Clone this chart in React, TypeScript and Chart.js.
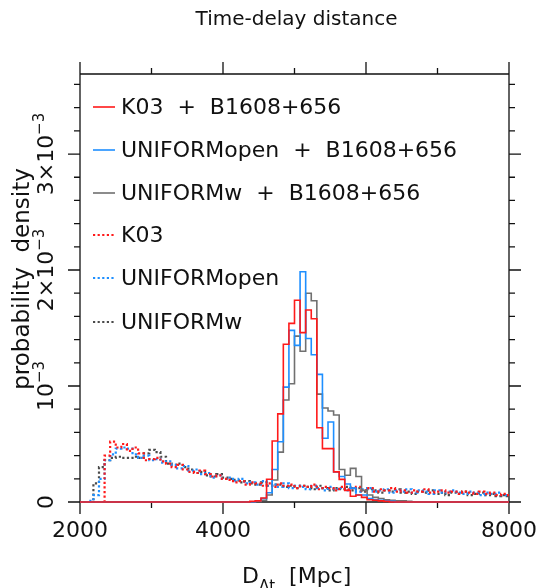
import React, { useEffect, useRef } from "react";
import { Chart, registerables } from "chart.js";

Chart.register(...registerables);

// ---------- data (probability density in units of 1e-3) ----------
const BIN_WIDTH = 78.125; // Mpc
const FIRST_BIN_EDGE = 1953.125; // left edge of first bin
const X_MIN = 2000;
const X_MAX = 8000;
const Y_MAX = 3.69;

const TITLE = "Time-delay distance";
const Y_LABEL = "probability  density";

const X_MAJOR_TICKS = [2000, 4000, 6000, 8000];
const X_MINOR_TICKS = [3000, 5000, 7000];
const X_TICK_LABELS = ["2000", "4000", "6000", "8000"];
const Y_MAJOR_TICKS = [0, 1, 2, 3];
const Y_MINOR_TICKS = [0.2, 0.4, 0.6, 0.8, 1.2, 1.4, 1.6, 1.8, 2.2, 2.4, 2.6, 2.8, 3.2, 3.4, 3.6];
const Y_TICK_PREFIX = ["0", "10", "2×10", "3×10"];
const Y_TICK_EXP = ["", "−3", "−3", "−3"];

// solid: posterior with B1608+656
const k03B1608 = [
  0, 0, 0, 0, 0, 0, 0, 0, 0, 0,
  0, 0, 0, 0, 0, 0, 0, 0, 0, 0,
  0, 0, 0, 0, 0, 0, 0, 0, 0, 0,
  0,
  0.005, 0.01, 0.035, 0.196, 0.526, 0.76, 1.36, 1.54, 1.74, 1.46,
  1.655, 1.58, 0.64, 0.46, 0.46, 0.26, 0.195, 0.10, 0.05, 0.06,
  0.04, 0.02, 0.015, 0.01, 0.005,
  0, 0, 0, 0, 0, 0, 0, 0, 0, 0,
  0, 0, 0, 0, 0, 0, 0, 0, 0, 0,
  0, 0,
];
const openB1608 = [
  0, 0, 0, 0, 0, 0, 0, 0, 0, 0,
  0, 0, 0, 0, 0, 0, 0, 0, 0, 0,
  0, 0, 0, 0, 0, 0, 0, 0, 0, 0,
  0, 0,
  0.01, 0.03, 0.08, 0.28, 0.52, 0.99, 1.48, 1.35, 1.985, 1.41,
  1.27, 1.10, 0.55, 0.69, 0.26, 0.22, 0.155, 0.12, 0.06, 0.06,
  0.03, 0.02, 0.015, 0.01, 0.005,
  0, 0, 0, 0, 0, 0, 0, 0, 0, 0,
  0, 0, 0, 0, 0, 0, 0, 0, 0, 0,
  0,
];
const wB1608 = [
  0, 0, 0, 0, 0, 0, 0, 0, 0, 0,
  0, 0, 0, 0, 0, 0, 0, 0, 0, 0,
  0, 0, 0, 0, 0, 0, 0, 0, 0, 0,
  0, 0,
  0.005, 0.015, 0.06, 0.19, 0.43, 0.88, 1.02, 1.43, 1.30, 1.80,
  1.735, 0.93, 0.81, 0.785, 0.75, 0.28, 0.23, 0.29, 0.22, 0.10,
  0.06, 0.04, 0.03, 0.02, 0.015, 0.01, 0.01, 0.005,
  0, 0, 0, 0, 0, 0, 0, 0, 0, 0,
  0, 0, 0, 0, 0, 0, 0, 0,
];

// dotted: priors only
const k03Prior = [
  0, 0, 0, 0, 0,
  0.40, 0.52, 0.47, 0.50, 0.44, 0.47, 0.42, 0.36, 0.37, 0.38,
  0.35, 0.33, 0.30, 0.32, 0.28, 0.26, 0.25, 0.27, 0.24, 0.22,
  0.23, 0.20, 0.19, 0.17, 0.18, 0.15, 0.17, 0.16, 0.14, 0.16,
  0.13, 0.16, 0.14, 0.15, 0.12, 0.14, 0.13, 0.15, 0.11, 0.13,
  0.12, 0.10, 0.13, 0.11, 0.12, 0.13, 0.10, 0.12, 0.09, 0.11,
  0.10, 0.12, 0.09, 0.10, 0.08, 0.10, 0.09, 0.11, 0.08, 0.09,
  0.10, 0.08, 0.09, 0.07, 0.09, 0.08, 0.07, 0.09, 0.07, 0.08,
  0.06, 0.07, 0.06,
];
const openPrior = [
  0, 0, 0.01, 0.06, 0.20,
  0.36, 0.41, 0.46, 0.47, 0.46, 0.41, 0.38, 0.40, 0.36, 0.37,
  0.34, 0.35, 0.32, 0.29, 0.31, 0.27, 0.28, 0.24, 0.25, 0.21,
  0.23, 0.20, 0.21, 0.18, 0.20, 0.16, 0.17, 0.15, 0.18, 0.14,
  0.15, 0.13, 0.16, 0.12, 0.14, 0.13, 0.11, 0.14, 0.12, 0.10,
  0.13, 0.11, 0.12, 0.10, 0.12, 0.09, 0.11, 0.12, 0.09, 0.10,
  0.11, 0.08, 0.10, 0.09, 0.11, 0.08, 0.10, 0.09, 0.07, 0.10,
  0.08, 0.09, 0.10, 0.08, 0.07, 0.09, 0.08, 0.06, 0.08, 0.07,
  0.08, 0.06, 0.06,
];
const wPrior = [
  0, 0, 0, 0.16, 0.30,
  0.36, 0.38, 0.39, 0.38, 0.38, 0.39, 0.38, 0.42, 0.45, 0.43,
  0.39, 0.33, 0.32, 0.33, 0.30, 0.28, 0.25, 0.26, 0.23, 0.22,
  0.24, 0.21, 0.20, 0.19, 0.17, 0.18, 0.16, 0.15, 0.17, 0.14,
  0.15, 0.15, 0.13, 0.14, 0.12, 0.14, 0.13, 0.11, 0.14, 0.12,
  0.10, 0.12, 0.11, 0.13, 0.10, 0.12, 0.09, 0.11, 0.10, 0.08,
  0.10, 0.09, 0.11, 0.08, 0.09, 0.07, 0.09, 0.08, 0.10, 0.07,
  0.08, 0.06, 0.08, 0.07, 0.09, 0.06, 0.07, 0.08, 0.06, 0.07,
  0.05, 0.06, 0.05,
];

const SERIES_LABELS = [
  "K03  +  B1608+656",
  "UNIFORMopen  +  B1608+656",
  "UNIFORMw  +  B1608+656",
  "K03",
  "UNIFORMopen",
  "UNIFORMw",
];

const RED = "#ff1a1a";
const BLUE = "#1e8fff";
const GRAY_SOLID = "#707070";
const GRAY_DOT = "#4a4a4a";
const FONT = '"DejaVu Sans", sans-serif';
const INK = "#111111";

const toSteps = (vals: number[]) => {
  const pts = vals.map((v, i) => ({ x: FIRST_BIN_EDGE + i * BIN_WIDTH, y: v }));
  pts.push({ x: FIRST_BIN_EDGE + vals.length * BIN_WIDTH, y: vals[vals.length - 1] });
  return pts;
};

type Part = { text: string; size: number; dy: number };

const drawRich = (ctx: CanvasRenderingContext2D, parts: Part[], x: number, y: number, align: "left" | "center") => {
  let total = 0;
  const widths = parts.map((p) => {
    ctx.font = `${p.size}px ${FONT}`;
    const w = ctx.measureText(p.text).width;
    total += w;
    return w;
  });
  let cur = align === "center" ? x - total / 2 : x;
  ctx.textAlign = "left";
  ctx.textBaseline = "alphabetic";
  parts.forEach((p, i) => {
    ctx.font = `${p.size}px ${FONT}`;
    ctx.fillText(p.text, cur, y + p.dy);
    cur += widths[i];
  });
};

const framePlugin = {
  id: "pgframe",
  beforeDatasetsDraw(chart: any) {
    const { ctx, chartArea: a, scales } = chart;
    const xs = scales.x;
    const ys = scales.y;
    ctx.save();
    ctx.strokeStyle = "#111111";
    ctx.lineWidth = 1.3;
    ctx.beginPath();
    ctx.rect(a.left, a.top, a.right - a.left, a.bottom - a.top);
    const MAJ = 12;
    const MIN = 6;
    const xTick = (v: number, len: number) => {
      const px = xs.getPixelForValue(v);
      ctx.moveTo(px, a.bottom);
      ctx.lineTo(px, a.bottom + len);
      ctx.moveTo(px, a.top);
      ctx.lineTo(px, a.top - len);
    };
    const yTick = (v: number, len: number) => {
      const py = ys.getPixelForValue(v);
      ctx.moveTo(a.left, py);
      ctx.lineTo(a.left - len, py);
      ctx.moveTo(a.right, py);
      ctx.lineTo(a.right + len, py);
    };
    X_MAJOR_TICKS.forEach((v) => xTick(v, MAJ));
    X_MINOR_TICKS.forEach((v) => xTick(v, MIN));
    Y_MAJOR_TICKS.forEach((v) => yTick(v, MAJ));
    Y_MINOR_TICKS.forEach((v) => yTick(v, MIN));
    ctx.stroke();
    ctx.restore();
  },
  afterDraw(chart: any) {
    const { ctx, chartArea: a, scales } = chart;
    const xs = scales.x;
    const ys = scales.y;
    ctx.save();
    ctx.fillStyle = INK;

    // title
    ctx.font = `20px ${FONT}`;
    ctx.textAlign = "center";
    ctx.textBaseline = "alphabetic";
    ctx.fillText(TITLE, (a.left + a.right) / 2 + 2, 25);

    // x tick labels
    ctx.font = `22px ${FONT}`;
    X_MAJOR_TICKS.forEach((v, i) => {
      ctx.textAlign = "center";
      ctx.fillText(X_TICK_LABELS[i], xs.getPixelForValue(v), 537);
    });

    // x axis label  D_Δt [Mpc]
    drawRich(
      ctx,
      [
        { text: "D", size: 22, dy: 0 },
        { text: "Δt", size: 15, dy: 8 },
        { text: "  [Mpc]", size: 22, dy: 0 },
      ],
      242,
      583,
      "left"
    );

    // y tick labels (rotated)
    Y_MAJOR_TICKS.forEach((v, i) => {
      const py = ys.getPixelForValue(v);
      ctx.save();
      ctx.translate(53, py);
      ctx.rotate(-Math.PI / 2);
      const parts: Part[] = [{ text: Y_TICK_PREFIX[i], size: 22, dy: 0 }];
      if (Y_TICK_EXP[i]) parts.push({ text: Y_TICK_EXP[i], size: 15, dy: -9 });
      drawRich(ctx, parts, 0, 0, "center");
      ctx.restore();
    });

    // y axis label
    ctx.save();
    ctx.translate(29, 279);
    ctx.rotate(-Math.PI / 2);
    ctx.font = `23px ${FONT}`;
    ctx.textAlign = "center";
    ctx.fillText(Y_LABEL, 0, 0);
    ctx.restore();

    // legend
    const rowY = [107, 150, 193, 235, 278, 322];
    chart.data.datasets.forEach((ds: any, i: number) => {
      const y = rowY[i];
      ctx.save();
      ctx.strokeStyle = ds.borderColor;
      ctx.lineWidth = ds.borderWidth;
      ctx.setLineDash(ds.borderDash || []);
      ctx.beginPath();
      ctx.moveTo(93, y);
      ctx.lineTo(115, y);
      ctx.stroke();
      ctx.restore();
      ctx.fillStyle = INK;
      ctx.font = `22px ${FONT}`;
      ctx.textAlign = "left";
      ctx.textBaseline = "middle";
      ctx.fillText(ds.label, 121, y + 1);
    });
    ctx.restore();
  },
};

export default function App() {
  const canvasRef = useRef<HTMLCanvasElement | null>(null);

  useEffect(() => {
    const canvas = canvasRef.current;
    if (!canvas) return;
    const solid = (label: string, vals: number[], color: string, order: number) => ({
      label,
      data: toSteps(vals),
      borderColor: color,
      borderWidth: 1.6,
      borderDash: [] as number[],
      stepped: "before" as const,
      pointRadius: 0,
      fill: false,
      order,
      clip: { left: 0, top: 0, right: 0, bottom: 3 },
    });
    const dotted = (label: string, vals: number[], color: string, order: number) => ({
      label,
      data: toSteps(vals),
      borderColor: color,
      borderWidth: 2.2,
      borderDash: [2.2, 2.4],
      stepped: "before" as const,
      pointRadius: 0,
      fill: false,
      order,
      clip: { left: 0, top: 0, right: 0, bottom: 3 },
    });
    const chart = new Chart(canvas, {
      type: "line",
      data: {
        datasets: [
          solid(SERIES_LABELS[0], k03B1608, RED, 1),
          solid(SERIES_LABELS[1], openB1608, BLUE, 2),
          solid(SERIES_LABELS[2], wB1608, GRAY_SOLID, 3),
          dotted(SERIES_LABELS[3], k03Prior, RED, 4),
          dotted(SERIES_LABELS[4], openPrior, BLUE, 5),
          dotted(SERIES_LABELS[5], wPrior, GRAY_DOT, 6),
        ] as any,
      },
      options: {
        responsive: false,
        animation: false,
        devicePixelRatio: 1,
        layout: { padding: { left: 80, right: 43, top: 74, bottom: 86 } },
        scales: {
          x: { type: "linear", min: X_MIN, max: X_MAX, display: false },
          y: { type: "linear", min: 0, max: Y_MAX, display: false },
        },
        plugins: { legend: { display: false }, tooltip: { enabled: false }, title: { display: false } },
        elements: { point: { radius: 0 }, line: { tension: 0 } },
      },
      plugins: [framePlugin],
    });
    return () => chart.destroy();
  }, []);

  return (
    <div style={{ position: "absolute", left: 0, top: 0, width: 552, height: 588, background: "#fff" }}>
      <canvas ref={canvasRef} width={552} height={588} style={{ display: "block" }} />
    </div>
  );
}
